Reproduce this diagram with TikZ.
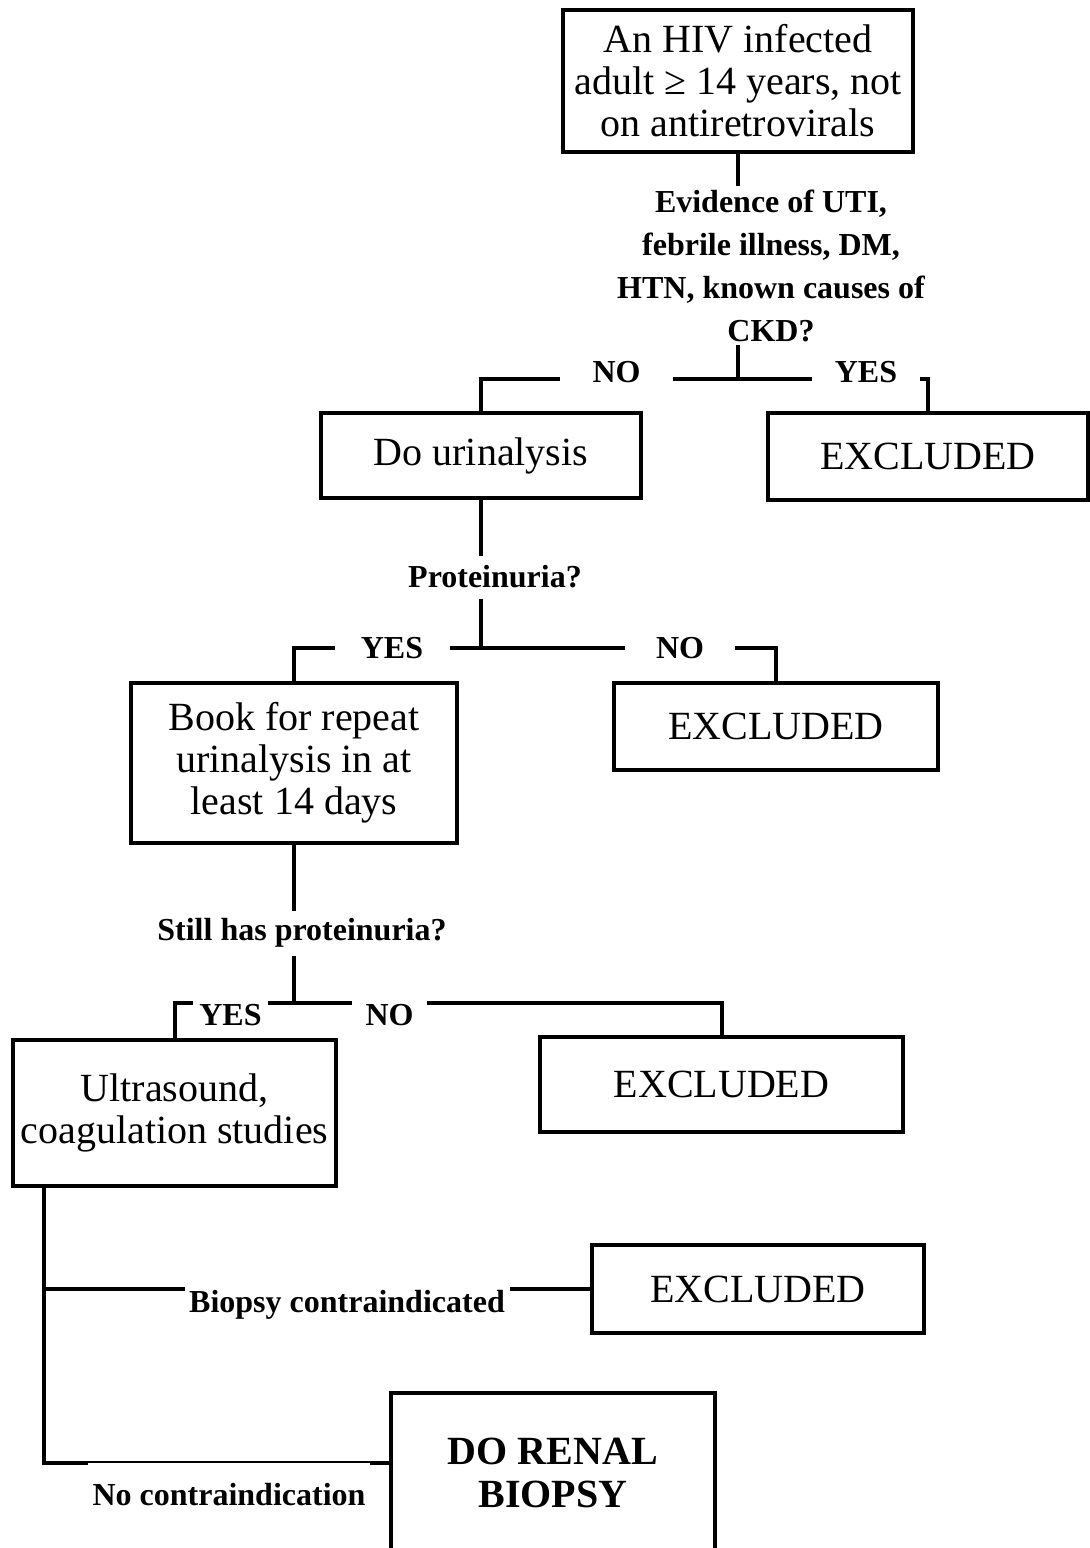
\documentclass[tikz,border=0pt]{standalone}
\usepackage{fontspec}
\setmainfont{Liberation Serif}
\usetikzlibrary{backgrounds}

\tikzset{
  box/.style={draw, line width=2pt, align=center, inner sep=0pt, font=\fontsize{20}{21}\selectfont},
  ask/.style={fill=white, align=center, inner sep=1pt, font=\bfseries\fontsize{16}{21.5}\selectfont},
  ans/.style={fill=white, inner sep=0pt, minimum height=20pt, font=\bfseries\fontsize{16}{21.5}\selectfont},
  link/.style={line width=2pt}
}

\begin{document}
\begin{tikzpicture}[x=0.5pt, y=-0.5pt]
        \useasboundingbox (0,0) rectangle (1090,1548);

        \node[box, minimum width=175pt, minimum height=71pt] (start) at (738,81) {An HIV infected\\adult ≥ 14 years, not\\on antiretrovirals};
        \node[box, minimum width=160pt, minimum height=42.5pt] (urin) at (481,455.5) {Do urinalysis};
        \node[box, minimum width=160pt, minimum height=43.5pt] (exclA) at (928,456.5) {EXCLUDED};
        \node[box, minimum width=163pt, minimum height=80pt] (repeat) at (294,763) {Book for repeat\\urinalysis in at\\least 14 days};
        \node[box, minimum width=162pt, minimum height=43.5pt] (exclB) at (776,726.5) {EXCLUDED};
        \node[box, minimum width=161.5pt, minimum height=73pt] (scan) at (174.5,1113) {Ultrasound,\\coagulation studies};
        \node[box, minimum width=181.5pt, minimum height=47.5pt] (exclC) at (721.5,1084.5) {EXCLUDED};
        \node[box, minimum width=166pt, minimum height=44pt] (exclD) at (758,1289) {EXCLUDED};
        \node[box, font=\bfseries\fontsize{20}{21.5}\selectfont, minimum width=162pt, minimum height=79.5pt] (biopsy) at (553,1472.5) {DO RENAL\\BIOPSY};

        \node[ask, minimum height=79.5pt] (qA) at (771,265.5) {Evidence of UTI,\\febrile illness, DM,\\HTN, known causes of\\CKD?};
        \node[ask, minimum height=21.5pt] (qB) at (495,577) {Proteinuria?};
        \node[ask, minimum height=22.5pt] (qC) at (302,933) {Still has proteinuria?};
        \node[ask, minimum width=162.5pt, minimum height=22pt] (qD) at (347,1305) {Biopsy contraindicated};
        \node[ask, minimum width=141pt, minimum height=32pt] (qE) at (229,1495) {No contraindication};

        \node[ans, minimum width=56.5pt] (noA) at (616.5,372) {NO};
        \node[ans, minimum width=54pt] (yesA) at (866,372) {YES};
        \node[ans, minimum width=57.5pt] (yesB) at (392,648) {YES};
        \node[ans, minimum width=55pt] (noB) at (680,648) {NO};
        \node[ans, minimum width=37.5pt] (yesC) at (230.5,1015) {YES};
        \node[ans, minimum width=37.5pt] (noC) at (389.5,1015) {NO};

        \begin{scope}[on background layer]
        \fill[white] (0,0) rectangle (1090,1548);
        \coordinate (jA) at (738,379);
        \coordinate (jB) at (481,648);
        \coordinate (jC) at (294,1003);
        \coordinate (jD) at ([xshift=16.5pt]scan.south west);

        \draw[link] (start.south) -- (jA);
        \draw[link] (jA) -| (urin.north);
        \draw[link] (jA) -| (exclA.north);

        \draw[link] (urin.south) -- (jB);
        \draw[link] (jB) -| (repeat.north);
        \draw[link] (jB) -| (exclB.north);

        \draw[link] (repeat.south) -- (jC);
        \draw[link] (jC) -| (scan.north);
        \draw[link] (jC) -| (exclC.north);

        \draw[link] (jD) |- (exclD.west);
        \draw[link] (jD) |- ([yshift=4.75pt]biopsy.west);
        \end{scope}
\end{tikzpicture}
\end{document}
